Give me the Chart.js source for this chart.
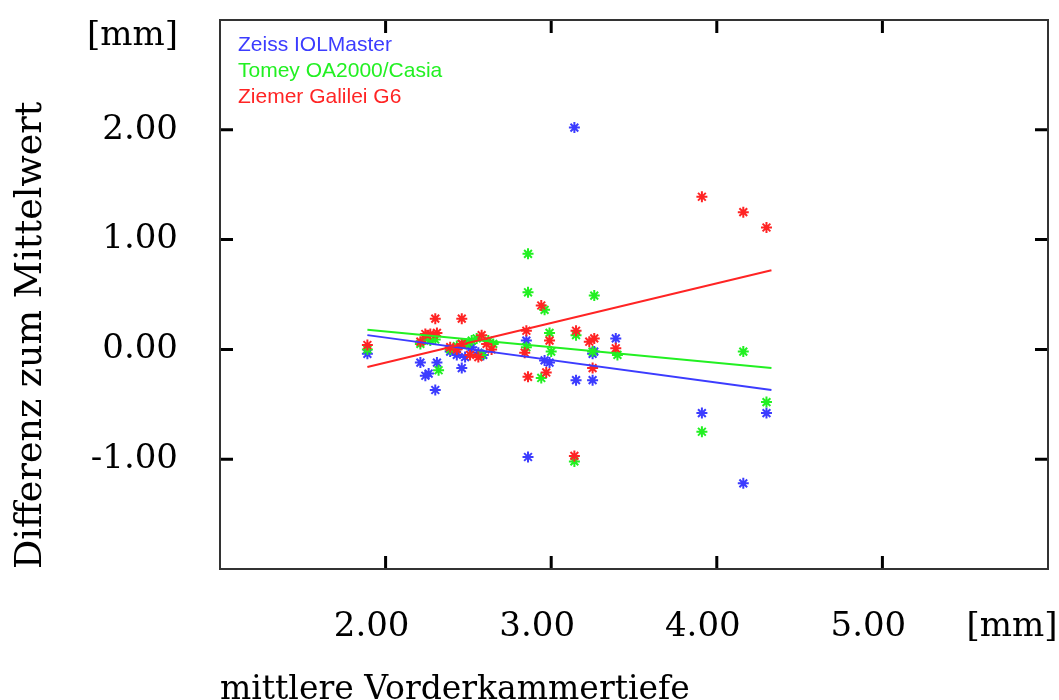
<!DOCTYPE html>
<html lang="de">
<head>
  <meta charset="UTF-8">
  <title>Differenz zum Mittelwert - Vorderkammertiefe</title>
  <script src="https://cdn.jsdelivr.net/npm/chart.js"></script>
  <style>
    body {
      margin: 0;
      background: #fff;
    }
    canvas {
      display: block;
    }
  </style>
</head>
<body>
  <canvas id="acdChart" width="1059" height="700"></canvas>

  <script>
    // mittlere Vorderkammertiefe [mm] und Differenz zum Mittelwert [mm]
    const zeissX = [1.89, 2.21, 2.24, 2.26, 2.30, 2.31, 2.39, 2.43, 2.46, 2.48, 2.52, 2.56, 2.59, 2.85, 2.86, 2.96, 2.99, 3.14, 3.15, 3.25, 3.25, 3.26, 3.39, 3.91, 4.16, 4.30];
    const zeissY = [-0.04, -0.12, -0.24, -0.22, -0.37, -0.12, -0.02, -0.05, -0.17, -0.07, 0.02, -0.03, -0.05, 0.08, -0.98, -0.10, -0.12, 2.02, -0.28, -0.28, -0.04, -0.02, 0.10, -0.58, -1.22, -0.58];

    const tomeyX = [1.89, 2.21, 2.24, 2.27, 2.30, 2.32, 2.39, 2.43, 2.46, 2.49, 2.52, 2.55, 2.58, 2.62, 2.65, 2.85, 2.86, 2.86, 2.94, 2.96, 2.99, 3.00, 3.14, 3.15, 3.25, 3.26, 3.40, 3.91, 4.16, 4.30];
    const tomeyY = [0.00, 0.05, 0.10, 0.08, 0.09, -0.19, 0.00, 0.03, 0.05, 0.05, 0.08, 0.10, -0.05, 0.08, 0.05, 0.02, 0.87, 0.52, -0.26, 0.36, 0.15, -0.02, -1.02, 0.13, -0.02, 0.49, -0.05, -0.75, -0.02, -0.48];

    const ziemerX = [1.89, 2.21, 2.24, 2.27, 2.30, 2.31, 2.39, 2.43, 2.46, 2.46, 2.51, 2.56, 2.58, 2.61, 2.64, 2.84, 2.85, 2.86, 2.94, 2.97, 2.99, 3.14, 3.15, 3.23, 3.25, 3.26, 3.39, 3.91, 4.16, 4.30];
    const ziemerY = [0.04, 0.07, 0.14, 0.14, 0.28, 0.15, 0.02, 0.00, 0.28, 0.05, -0.05, -0.07, 0.13, 0.05, 0.00, -0.03, 0.17, -0.25, 0.40, -0.21, 0.08, -0.97, 0.17, 0.07, -0.17, 0.10, 0.01, 1.39, 1.25, 1.11];

    // Regressionsgeraden (Endpunkte)
    const fitX = [1.89, 4.33];
    const zeissFit = [0.13, -0.37];
    const tomeyFit = [0.18, -0.17];
    const ziemerFit = [-0.16, 0.72];

    const xTicks = [2, 3, 4, 5];
    const yTicks = [-1, 0, 1, 2];
    const names = ['Zeiss IOLMaster', 'Tomey OA2000/Casia', 'Ziemer Galilei G6'];

    const BLUE = '#3c3cff', GREEN = '#22f022', RED = '#ff2424';
    const serif = { family: 'DejaVu Serif', size: 34 };

    const pts = (xs, ys) => xs.map((x, i) => ({ x: x, y: ys[i] }));

    function scatterSet(label, xs, ys, color) {
      return {
        type: 'scatter',
        label: label,
        data: pts(xs, ys),
        pointStyle: 'star',
        pointRadius: 5.5,
        borderColor: color,
        backgroundColor: color,
        borderWidth: 2,
        order: 2
      };
    }

    function fitSet(ys, color) {
      return {
        type: 'line',
        data: pts(fitX, ys),
        borderColor: color,
        borderWidth: 2,
        pointRadius: 0,
        fill: false,
        order: 1
      };
    }

    // Rahmen, Ticks nach innen, Legende und Einheiten
    const framePlugin = {
      id: 'frame',
      afterDatasetsDraw(chart) {
        const { ctx, chartArea: a, scales } = chart;
        ctx.save();
        ctx.strokeStyle = '#000';
        ctx.lineWidth = 3;
        ctx.beginPath();
        xTicks.forEach(v => {
          const px = scales.x.getPixelForValue(v);
          ctx.moveTo(px, a.bottom); ctx.lineTo(px, a.bottom - 13);
          ctx.moveTo(px, a.top); ctx.lineTo(px, a.top + 13);
        });
        yTicks.forEach(v => {
          const py = scales.y.getPixelForValue(v);
          ctx.moveTo(a.left, py); ctx.lineTo(a.left + 13, py);
          ctx.moveTo(a.right, py); ctx.lineTo(a.right - 13, py);
        });
        ctx.stroke();

        ctx.strokeStyle = '#333';
        ctx.lineWidth = 2;
        ctx.strokeRect(a.left, a.top, a.right - a.left, a.bottom - a.top);

        ctx.font = '21px "Liberation Sans"';
        ctx.textBaseline = 'middle';
        ctx.textAlign = 'left';
        [BLUE, GREEN, RED].forEach((c, i) => {
          ctx.fillStyle = c;
          ctx.fillText(names[i], a.left + 18, a.top + 25 + i * 26);
        });

        ctx.fillStyle = '#000';
        ctx.font = '34px "DejaVu Serif"';
        ctx.textAlign = 'right';
        ctx.fillText('[mm]', a.left - 42, a.top + 16);
        ctx.textAlign = 'center';
        ctx.fillText('[mm]', 1012, 627);
        ctx.restore();
      }
    };

    new Chart(document.getElementById('acdChart'), {
      type: 'scatter',
      data: {
        datasets: [
          scatterSet(names[2], ziemerX, ziemerY, RED),
          scatterSet(names[1], tomeyX, tomeyY, GREEN),
          scatterSet(names[0], zeissX, zeissY, BLUE),
          fitSet(ziemerFit, RED),
          fitSet(tomeyFit, GREEN),
          fitSet(zeissFit, BLUE)
        ]
      },
      options: {
        responsive: false,
        animation: false,
        layout: { padding: { left: 0, right: 11, top: 20, bottom: 0 } },
        plugins: {
          legend: { display: false },
          tooltip: { enabled: false }
        },
        scales: {
          x: {
            type: 'linear',
            min: 1,
            max: 6,
            afterFit(s) { s.height = 131; s.paddingLeft = 0; s.paddingRight = 0; },
            afterBuildTicks(s) { s.ticks = xTicks.map(v => ({ value: v })); },
            ticks: {
              padding: 38,
              labelOffset: -14,
              color: '#000',
              font: serif,
              maxRotation: 0,
              callback: v => v.toFixed(2)
            },
            grid: { display: false, drawTicks: false },
            border: { display: false },
            title: {
              display: true,
              text: 'mittlere Vorderkammertiefe',
              align: 'start',
              color: '#000',
              font: { family: 'DejaVu Serif', size: 33 },
              padding: { top: 0, bottom: -10 }
            }
          },
          y: {
            type: 'linear',
            min: -2,
            max: 3,
            afterFit(s) { s.width = 220; s.paddingTop = 0; s.paddingBottom = 0; },
            afterBuildTicks(s) { s.ticks = yTicks.map(v => ({ value: v })); },
            ticks: {
              padding: 42,
              color: '#000',
              font: serif,
              callback: v => v.toFixed(2)
            },
            grid: { display: false, drawTicks: false },
            border: { display: false },
            title: {
              display: true,
              text: 'Differenz zum Mittelwert',
              align: 'start',
              color: '#000',
              font: { family: 'DejaVu Serif', size: 36.5 },
              padding: { top: 10, bottom: 0 }
            }
          }
        }
      },
      plugins: [framePlugin]
    });
  </script>
</body>
</html>
